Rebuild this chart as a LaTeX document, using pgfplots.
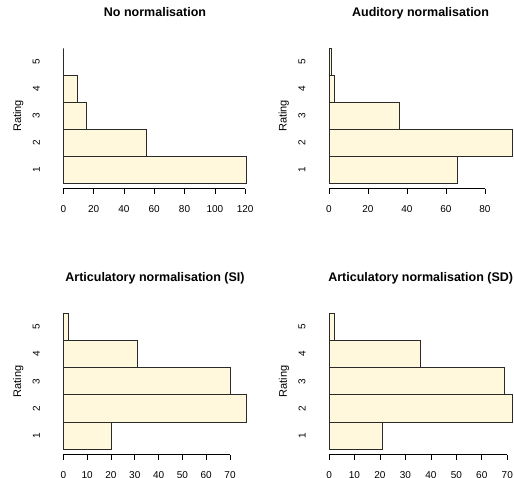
\documentclass[border=0pt]{standalone}
\usepackage{pgfplots}
\pgfplotsset{compat=1.18}
\usepackage{pgfplotstable}
\usepackage{fontspec}
\setmainfont{Liberation Sans}

\definecolor{barfill}{HTML}{FFF8DC}
\definecolor{barline}{HTML}{2A2A2A}

% Rating counts (rating 1..5 at y = 0.5 .. 4.5)
\pgfplotstableread{
y    n
0.5  121
1.5  55
2.5  15
3.5  9
4.5  0
}\tabNone
\pgfplotstableread{
y    n
0.5  66
1.5  94
2.5  36
3.5  3
4.5  1
}\tabAud
\pgfplotstableread{
y    n
0.5  20
1.5  77
2.5  70
3.5  31
4.5  2
}\tabSI
\pgfplotstableread{
y    n
0.5  21
1.5  72
2.5  69
3.5  36
4.5  2
}\tabSD

\pgfplotsset{
  ratingpanel/.style={
    scale only axis,
    width=198pt,
    anchor=south west,
    ymin=-0.2, ymax=5.2,
    axis line style={draw=none},
    font=\fontsize{10}{12}\selectfont,
    /pgf/number format/assume math mode=true,
    ytick={0.5,1.5,2.5,3.5,4.5},
    yticklabels={1,2,3,4,5},
    ytick style={draw=none},
    yticklabel style={rotate=90, anchor=south, inner sep=0pt},
    yticklabel shift=10.5pt,
    xtick pos=bottom,
    tick align=outside,
    major tick length=5.5pt,
    xtick style={line width=0.7pt, black},
    xticklabel style={anchor=north, inner sep=0pt},
    xticklabel shift=11pt,
    scaled x ticks=false,
    ylabel={Rating},
    every axis y label/.style={at={(rel axis cs:0,0.5)}, xshift=-37.7pt, rotate=90, anchor=center, font=\fontsize{11}{13}\selectfont},
    title style={at={(0.5,1)}, anchor=base, yshift=20.3pt, font=\fontsize{12.5}{14}\selectfont\bfseries},
    clip=false,
  },
  ratingbars/.style={xbar, bar width=1, bar shift=0pt, fill=barfill, draw=barline, line width=0.75pt},
}

\begin{document}
\begin{tikzpicture}
\useasboundingbox (0pt,0pt) rectangle (514pt,477pt);

\begin{axis}[ratingpanel, at={(56pt,288.3pt)}, height=145.8pt,
  xmin=-4.84, xmax=125.84, xtick={0,20,...,120},
  title={No normalisation}]
  \addplot[ratingbars] table[x=n, y=y] {\tabNone};
  \draw[line width=0.7pt] (axis cs:0,-0.2) -- (axis cs:120,-0.2);
\end{axis}

\begin{axis}[ratingpanel, at={(321.6pt,288.3pt)}, height=145.8pt,
  xmin=-3.76, xmax=97.76, xtick={0,20,...,80},
  title={Auditory normalisation}]
  \addplot[ratingbars] table[x=n, y=y] {\tabAud};
  \draw[line width=0.7pt] (axis cs:0,-0.2) -- (axis cs:80,-0.2);
\end{axis}

\begin{axis}[ratingpanel, at={(56pt,22.3pt)}, height=146.9pt,
  xmin=-3.08, xmax=80.08, xtick={0,10,...,70},
  title={Articulatory normalisation (SI)}]
  \addplot[ratingbars] table[x=n, y=y] {\tabSI};
  \draw[line width=0.7pt] (axis cs:0,-0.2) -- (axis cs:70,-0.2);
\end{axis}

\begin{axis}[ratingpanel, at={(321.7pt,22.3pt)}, height=146.9pt,
  xmin=-2.88, xmax=74.88, xtick={0,10,...,70},
  title={Articulatory normalisation (SD)}]
  \addplot[ratingbars] table[x=n, y=y] {\tabSD};
  \draw[line width=0.7pt] (axis cs:0,-0.2) -- (axis cs:70,-0.2);
\end{axis}
\end{tikzpicture}
\end{document}
